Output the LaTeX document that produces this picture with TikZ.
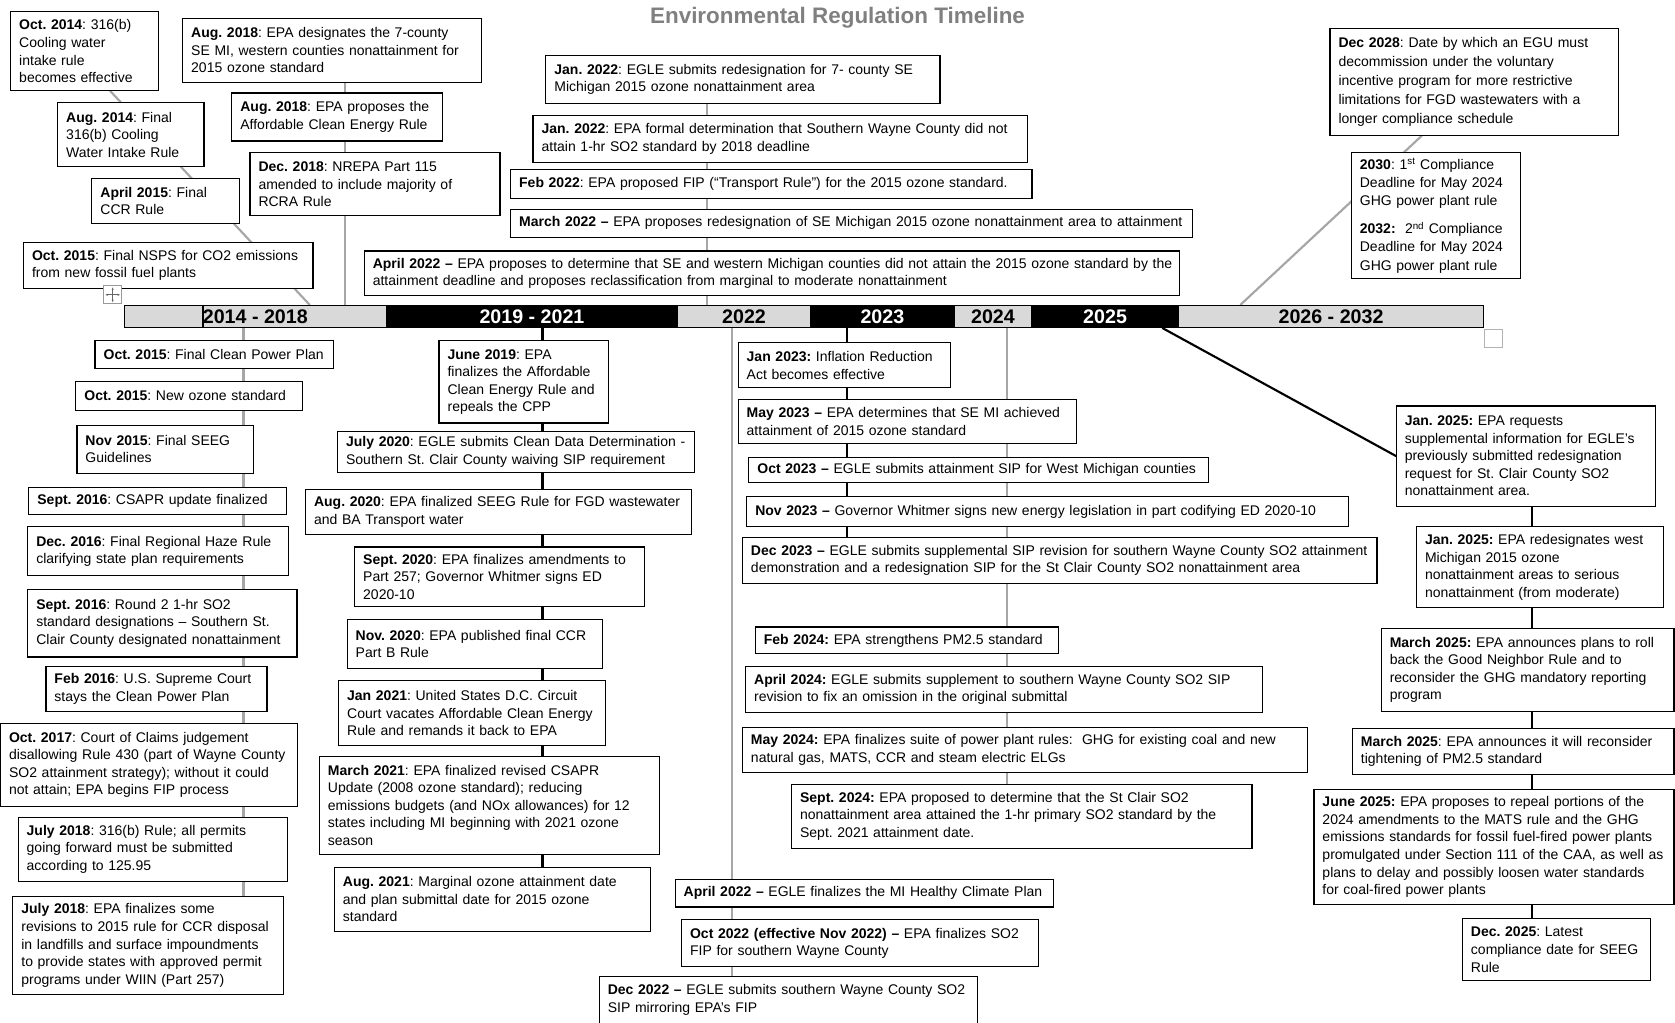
\documentclass[tikz,border=0pt]{standalone}
\usepackage{fontspec}
\setmainfont{Liberation Sans}
\usetikzlibrary{backgrounds,arrows.meta}
\frenchspacing

\begin{document}
\begin{tikzpicture}[x=1pt, y=-1pt,
  evbox/.style={draw, line width=1.1pt, fill=white, anchor=north west, inner xsep=8pt, inner ysep=2pt, outer sep=0pt,
    font=\fontsize{13.1}{16.4}\selectfont,
    execute at begin node={\rightskip=0pt plus 1fil minus 40pt\hyphenpenalty=10000}},
  yearlt/.style={draw, line width=1pt, fill=black!15, anchor=north west, inner sep=0pt, minimum height=20.5pt, font=\bfseries\fontsize{18.4}{18.4}\selectfont},
  yeardk/.style={yearlt, fill=black, text=white},
  tlgray/.style={draw=black!35, line width=2pt},
  tlblack/.style={draw=black, line width=2.4pt}]
\useasboundingbox (0,0) rectangle (1568,957);

\node[font=\bfseries\fontsize{21}{21}\selectfont, text=black!50] (title) at (784,17) {Environmental Regulation Timeline};

\node[evbox, text width=122pt, minimum height=74pt] (oct14) at (10,11) {\textbf{Oct. 2014}: 316(b)\\Cooling water\\intake rule\\becomes effective};
\node[evbox, text width=121pt, minimum height=60pt] (aug14) at (54,96) {\textbf{Aug. 2014}: Final\\316(b) Cooling\\Water Intake Rule};
\node[evbox, text width=122pt, minimum height=42pt] (apr15) at (86,167) {\textbf{April 2015}: Final\\CCR Rule};
\node[evbox, text width=255pt, minimum height=43pt] (nsps) at (22,227) {\textbf{Oct. 2015}: Final NSPS for CO2 emissions\\from new fossil fuel plants};
\node[evbox, text width=264pt, minimum height=60pt] (aug18a) at (171,17) {\textbf{Aug. 2018}: EPA designates the 7-county\\SE MI, western counties nonattainment for\\2015 ozone standard};
\node[evbox, text width=181pt, minimum height=45pt] (aug18b) at (217,87) {\textbf{Aug. 2018}: EPA proposes the\\Affordable Clean Energy Rule};
\node[evbox, text width=218pt, minimum height=59pt] (dec18) at (234,143) {\textbf{Dec. 2018}: NREPA Part 115\\amended to include majority of\\RCRA Rule};

\node[evbox, text width=353pt, minimum height=45pt] (jan22a) at (511,52) {\textbf{Jan. 2022}: EGLE submits redesignation for 7- county SE\\Michigan 2015 ozone nonattainment area};
\node[evbox, text width=447pt, minimum height=44pt] (jan22b) at (499,108) {\textbf{Jan. 2022}: EPA formal determination that Southern Wayne County did not\\attain 1-hr SO2 standard by 2018 deadline};
\node[evbox, text width=472pt, minimum height=27pt] (feb22) at (478,159) {\textbf{Feb 2022}: EPA proposed FIP (“Transport Rule”) for the 2015 ozone standard.};
\node[evbox, text width=622pt, minimum height=26pt] (mar22) at (478,196) {\textbf{March 2022 –} EPA proposes redesignation of SE Michigan 2015 ozone nonattainment area to attainment};
\node[evbox, text width=747pt, minimum height=42pt] (apr22a) at (341,235) {\textbf{April 2022 –} EPA proposes to determine that SE and western Michigan counties did not attain the 2015 ozone standard by the\\attainment deadline and proposes reclassification from marginal to moderate nonattainment};

\node[evbox, text width=254pt, minimum height=100pt, font=\fontsize{13.1}{17.8}\selectfont] (dec28) at (1245,27) {\textbf{Dec 2028}: Date by which an EGU must\\decommission under the voluntary\\incentive program for more restrictive\\limitations for FGD wastewaters with a\\longer compliance schedule};
\node[evbox, text width=142pt, minimum height=118pt, font=\fontsize{13.1}{17}\selectfont] (c2030) at (1265,143) {\textbf{2030}: 1\textsuperscript{st} Compliance\\Deadline for May 2024\\GHG power plant rule\\[9pt]\textbf{2032:}\ \ 2\textsuperscript{nd} Compliance\\Deadline for May 2024\\GHG power plant rule};

\node[yearlt, minimum width=245pt] (s1418) at (116,285.5) {2014 - 2018};
\node[yeardk, minimum width=273pt] (s1921) at (361,285.5) {2019 - 2021};
\node[yearlt, minimum width=124pt] (s22) at (634,285.5) {2022};
\node[yeardk, minimum width=135pt] (s23) at (758,285.5) {2023};
\node[yearlt, minimum width=72pt] (s24) at (893,285.5) {2024};
\node[yeardk, minimum width=138pt] (s25) at (965,285.5) {2025};
\node[yearlt, minimum width=285pt] (s2632) at (1103,285.5) {2026 - 2032};
\draw[line width=1pt] (s1418.north -| 190,0) -- (s1418.south -| 190,0);

\node[evbox, text width=207pt, minimum height=26pt] (cpp) at (89,319) {\textbf{Oct. 2015}: Final Clean Power Plan};
\node[evbox, text width=196pt, minimum height=27pt] (ozone) at (71,357) {\textbf{Oct. 2015}: New ozone standard};
\node[evbox, text width=149pt, minimum height=45pt] (seeg15) at (72,398) {\textbf{Nov 2015}: Final SEEG\\Guidelines};
\node[evbox, text width=225pt, minimum height=26pt] (csapr16) at (27,456) {\textbf{Sept. 2016}: CSAPR update finalized};
\node[evbox, text width=228pt, minimum height=46pt] (haze) at (26,493) {\textbf{Dec. 2016}: Final Regional Haze Rule\\clarifying state plan requirements};
\node[evbox, text width=236pt, minimum height=63pt] (round2) at (26,552) {\textbf{Sept. 2016}: Round 2 1-hr SO2\\standard designations – Southern St.\\Clair County designated nonattainment};
\node[evbox, text width=191pt, minimum height=42pt] (stay) at (43,624) {\textbf{Feb 2016}: U.S. Supreme Court\\stays the Clean Power Plan};
\node[evbox, text width=262pt, minimum height=78pt] (claims) at (0.5,677) {\textbf{Oct. 2017}: Court of Claims judgement\\disallowing Rule 430 (part of Wayne County\\SO2 attainment strategy); without it could\\not attain; EPA begins FIP process};
\node[evbox, text width=236pt, minimum height=60pt] (rule316) at (17,765) {\textbf{July 2018}: 316(b) Rule; all permits\\going forward must be submitted\\according to 125.95};
\node[evbox, text width=237pt, minimum height=92pt] (ccr18) at (12,839) {\textbf{July 2018}: EPA finalizes some\\revisions to 2015 rule for CCR disposal\\in landfills and surface impoundments\\to provide states with approved permit\\programs under WIIN (Part 257)};

\node[evbox, text width=143pt, minimum height=77pt] (ace19) at (411,319) {\textbf{June 2019}: EPA\\finalizes the Affordable\\Clean Energy Rule and\\repeals the CPP};
\node[evbox, text width=318pt, minimum height=38pt] (cdd20) at (316,404) {\textbf{July 2020}: EGLE submits Clean Data Determination -\\Southern St. Clair County waiving SIP requirement};
\node[evbox, text width=345pt, minimum height=42pt] (seeg20) at (286,458) {\textbf{Aug. 2020}: EPA finalized SEEG Rule for FGD wastewater\\and BA Transport water};
\node[evbox, text width=255pt, minimum height=56pt] (p257) at (332,512) {\textbf{Sept. 2020}: EPA finalizes amendments to\\Part 257; Governor Whitmer signs ED\\2020-10};
\node[evbox, text width=223pt, minimum height=46pt] (ccrb) at (325,580) {\textbf{Nov. 2020}: EPA published final CCR\\Part B Rule};
\node[evbox, text width=234pt, minimum height=61pt] (dcc21) at (317,637) {\textbf{Jan 2021}: United States D.C. Circuit\\Court vacates Affordable Clean Energy\\Rule and remands it back to EPA};
\node[evbox, text width=302pt, minimum height=92pt] (csapr21) at (299,708) {\textbf{March 2021}: EPA finalized revised CSAPR\\Update (2008 ozone standard); reducing\\emissions budgets (and NOx allowances) for 12\\states including MI beginning with 2021 ozone\\season};
\node[evbox, text width=280pt, minimum height=60pt] (aug21) at (313,812) {\textbf{Aug. 2021}: Marginal ozone attainment date\\and plan submittal date for 2015 ozone\\standard};

\node[evbox, text width=338pt, minimum height=26pt] (apr22b) at (632,823) {\textbf{April 2022 –} EGLE finalizes the MI Healthy Climate Plan};
\node[evbox, text width=318pt, minimum height=44pt] (oct22) at (638,861) {\textbf{Oct 2022 (effective Nov 2022) –} EPA finalizes SO2\\FIP for southern Wayne County};
\node[evbox, text width=338pt, minimum height=44pt] (dec22) at (561,914) {\textbf{Dec 2022 –} EGLE submits southern Wayne County SO2\\SIP mirroring EPA’s FIP};

\node[evbox, text width=183pt, minimum height=42pt] (ira) at (691,321) {\textbf{Jan 2023:} Inflation Reduction\\Act becomes effective};
\node[evbox, text width=301pt, minimum height=41pt] (may23) at (691,374) {\textbf{May 2023 –} EPA determines that SE MI achieved\\attainment of 2015 ozone standard};
\node[evbox, text width=414pt, minimum height=24pt] (oct23) at (701,428) {\textbf{Oct 2023 –} EGLE submits attainment SIP for West Michigan counties};
\node[evbox, text width=547pt, minimum height=28pt] (nov23) at (699,465) {\textbf{Nov 2023 –} Governor Whitmer signs new energy legislation in part codifying ED 2020-10};
\node[evbox, text width=578pt, minimum height=43pt] (dec23) at (695,503) {\textbf{Dec 2023 –} EGLE submits supplemental SIP revision for southern Wayne County SO2 attainment\\demonstration and a redesignation SIP for the St Clair County SO2 nonattainment area};

\node[evbox, text width=268pt, minimum height=25pt] (pm24) at (707,587) {\textbf{Feb 2024:} EPA strengthens PM2.5 standard};
\node[evbox, text width=468pt, minimum height=43pt] (apr24) at (698,624) {\textbf{April 2024:} EGLE submits supplement to southern Wayne County SO2 SIP\\revision to fix an omission in the original submittal};
\node[evbox, text width=513pt, minimum height=42pt] (may24) at (695,681) {\textbf{May 2024:} EPA finalizes suite of power plant rules:\ \ GHG for existing coal and new\\natural gas, MATS, CCR and steam electric ELGs};
\node[evbox, text width=415pt, minimum height=60pt] (sep24) at (741,734) {\textbf{Sept. 2024:} EPA proposed to determine that the St Clair SO2\\nonattainment area attained the 1-hr primary SO2 standard by the\\Sept. 2021 attainment date.};

\node[evbox, text width=227pt, minimum height=94pt] (jan25a) at (1307,380) {\textbf{Jan. 2025:} EPA requests\\supplemental information for EGLE’s\\previously submitted redesignation\\request for St. Clair County SO2\\nonattainment area.};
\node[evbox, text width=215pt, minimum height=76pt] (jan25b) at (1326,493) {\textbf{Jan. 2025:} EPA redesignates west\\Michigan 2015 ozone\\nonattainment areas to serious\\nonattainment (from moderate)};
\node[evbox, text width=258pt, minimum height=78pt] (mar25a) at (1293,588) {\textbf{March 2025:} EPA announces plans to roll\\back the Good Neighbor Rule and to\\reconsider the GHG mandatory reporting\\program};
\node[evbox, text width=285pt, minimum height=43pt] (mar25b) at (1266,682) {\textbf{March 2025}: EPA announces it will reconsider\\tightening of PM2.5 standard};
\node[evbox, text width=321pt, minimum height=108pt] (jun25) at (1230,739) {\textbf{June 2025:} EPA proposes to repeal portions of the\\2024 amendments to the MATS rule and the GHG\\emissions standards for fossil fuel-fired power plants\\promulgated under Section 111 of the CAA, as well as\\plans to delay and possibly loosen water standards\\for coal-fired power plants};
\node[evbox, text width=160pt, minimum height=58pt] (dec25) at (1369,860) {\textbf{Dec. 2025}: Latest\\compliance date for SEEG\\Rule};

\node[draw=black!40, line width=0.8pt, fill=white, minimum size=17pt, inner sep=0pt] (mover) at (105.5,276) {};
\draw[black!60, line width=0.7pt, {Stealth[length=2.5pt]}-{Stealth[length=2.5pt]}] ([xshift=2pt]mover.west) -- ([xshift=-2pt]mover.east);
\draw[black!60, line width=0.7pt, {Stealth[length=2.5pt]}-{Stealth[length=2.5pt]}] ([yshift=-2pt]mover.north) -- ([yshift=2pt]mover.south);
\node[draw=black!30, line width=0.8pt, minimum size=17pt, inner sep=0pt, anchor=north west] (endmark) at (1389,308) {};

\begin{scope}[on background layer]
\fill[white] (0,0) rectangle (1568,957);
\draw[tlgray] (oct14.south -| 103,0) -- (s1418.north -| 290,0);
\draw[tlgray] (aug18a.south -| 323,0) -- (s1418.north -| 323,0);
\draw[tlgray] (jan22a.south -| 662,0) -- (s22.north -| 662,0);
\draw[tlgray] (dec28.south -| 1331,0) -- (s2632.north -| 1161,0);
\draw[tlgray] (s1418.south -| 228,0) -- (ccr18.north -| 228,0);
\draw[tlblack] (s1921.south -| 508,0) -- (aug21.north -| 508,0);
\draw[tlgray] (s22.south -| 685,0) -- (dec22.north -| 685,0);
\draw[tlblack] (s23.south -| 793,0) -- (dec23.north -| 793,0);
\draw[tlgray] (s24.south -| 943,0) -- (sep24.north -| 943,0);
\draw[tlblack, line width=2pt] (s25.south -| 1088,0) -- (jan25a.west);
\draw[tlblack] (jan25a.south -| 1434,0) -- (dec25.north -| 1434,0);
\end{scope}
\end{tikzpicture}
\end{document}
